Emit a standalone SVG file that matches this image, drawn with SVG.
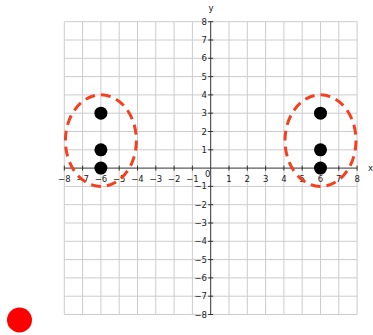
<svg xmlns="http://www.w3.org/2000/svg" width="373" height="335" viewBox="0 0 373 335">
<defs>
<style>
.grid{stroke:#cccccc;stroke-width:1;fill:none}
.axis{stroke:#333333;stroke-width:1;fill:none}
.lbl{font-family:"DejaVu Sans",sans-serif;font-size:8.5px;fill:#222}
.pt{fill:#000}
.ell{fill:none;stroke:#f5401f;stroke-width:3;stroke-dasharray:10 6}
</style>
</defs>
<g id="grid">
<path class="grid" d="M64.3 21.7V314.5M82.6 21.7V314.5M100.9 21.7V314.5M119.2 21.7V314.5M137.5 21.7V314.5M155.8 21.7V314.5M174.1 21.7V314.5M192.4 21.7V314.5M229 21.7V314.5M247.3 21.7V314.5M265.6 21.7V314.5M283.9 21.7V314.5M302.2 21.7V314.5M320.5 21.7V314.5M338.8 21.7V314.5M357.1 21.7V314.5"/>
<path class="grid" d="M64.3 21.7H357.1M64.3 40H357.1M64.3 58.3H357.1M64.3 76.6H357.1M64.3 94.9H357.1M64.3 113.2H357.1M64.3 131.5H357.1M64.3 149.8H357.1M64.3 186.4H357.1M64.3 204.7H357.1M64.3 223H357.1M64.3 241.3H357.1M64.3 259.6H357.1M64.3 277.9H357.1M64.3 296.2H357.1M64.3 314.5H357.1"/>
</g>
<g id="axes">
<path class="axis" d="M64.3 168.1H357.1M210.7 21.7V314.5"/>
<path class="axis" d="M64.3 165.6v5M82.6 165.6v5M100.9 165.6v5M119.2 165.6v5M137.5 165.6v5M155.8 165.6v5M174.1 165.6v5M192.4 165.6v5M229 165.6v5M247.3 165.6v5M265.6 165.6v5M283.9 165.6v5M302.2 165.6v5M320.5 165.6v5M338.8 165.6v5M357.1 165.6v5"/>
<path class="axis" d="M208.2 21.7h5M208.2 40h5M208.2 58.3h5M208.2 76.6h5M208.2 94.9h5M208.2 113.2h5M208.2 131.5h5M208.2 149.8h5M208.2 186.4h5M208.2 204.7h5M208.2 223h5M208.2 241.3h5M208.2 259.6h5M208.2 277.9h5M208.2 296.2h5M208.2 314.5h5"/>
</g>
<g id="xlabels" class="lbl" text-anchor="middle">
<text x="64.3" y="182">−8</text><text x="82.6" y="182">−7</text><text x="100.9" y="182">−6</text><text x="119.2" y="182">−5</text><text x="137.5" y="182">−4</text><text x="155.8" y="182">−3</text><text x="174.1" y="182">−2</text><text x="192.4" y="182">−1</text>
<text x="229" y="182">1</text><text x="247.3" y="182">2</text><text x="265.6" y="182">3</text><text x="283.9" y="182">4</text><text x="302.2" y="182">5</text><text x="320.5" y="182">6</text><text x="338.8" y="182">7</text><text x="357.1" y="182">8</text>
</g>
<g id="ylabels" class="lbl" text-anchor="end">
<text x="207" y="24.7">8</text><text x="207" y="43">7</text><text x="207" y="61.3">6</text><text x="207" y="79.6">5</text><text x="207" y="97.9">4</text><text x="207" y="116.2">3</text><text x="207" y="134.5">2</text><text x="207" y="152.8">1</text>
<text x="207" y="189.4">−1</text><text x="207" y="207.7">−2</text><text x="207" y="226">−3</text><text x="207" y="244.3">−4</text><text x="207" y="262.6">−5</text><text x="207" y="280.9">−6</text><text x="207" y="299.2">−7</text><text x="207" y="317.5">−8</text>
</g>
<g id="axislabels" class="lbl">
<text x="205" y="176.5">0</text>
<text x="368" y="171">x</text>
<text x="208.5" y="11">y</text>
</g>
<g id="left-cluster">
<ellipse class="ell" cx="100.9" cy="140.6" rx="35.5" ry="45.8"/>
<circle class="pt" cx="100.9" cy="113.2" r="6.5"/>
<circle class="pt" cx="100.9" cy="149.8" r="6.5"/>
<circle class="pt" cx="100.9" cy="168.1" r="6.5"/>
</g>
<g id="right-cluster">
<ellipse class="ell" cx="320.5" cy="140.6" rx="35.5" ry="45.8"/>
<circle class="pt" cx="320.5" cy="113.2" r="6.5"/>
<circle class="pt" cx="320.5" cy="149.8" r="6.5"/>
<circle class="pt" cx="320.5" cy="168.1" r="6.5"/>
</g>
<g id="red-dot">
<circle cx="19.5" cy="320" r="12.5" fill="#ff0000"/>
</g>
</svg>
